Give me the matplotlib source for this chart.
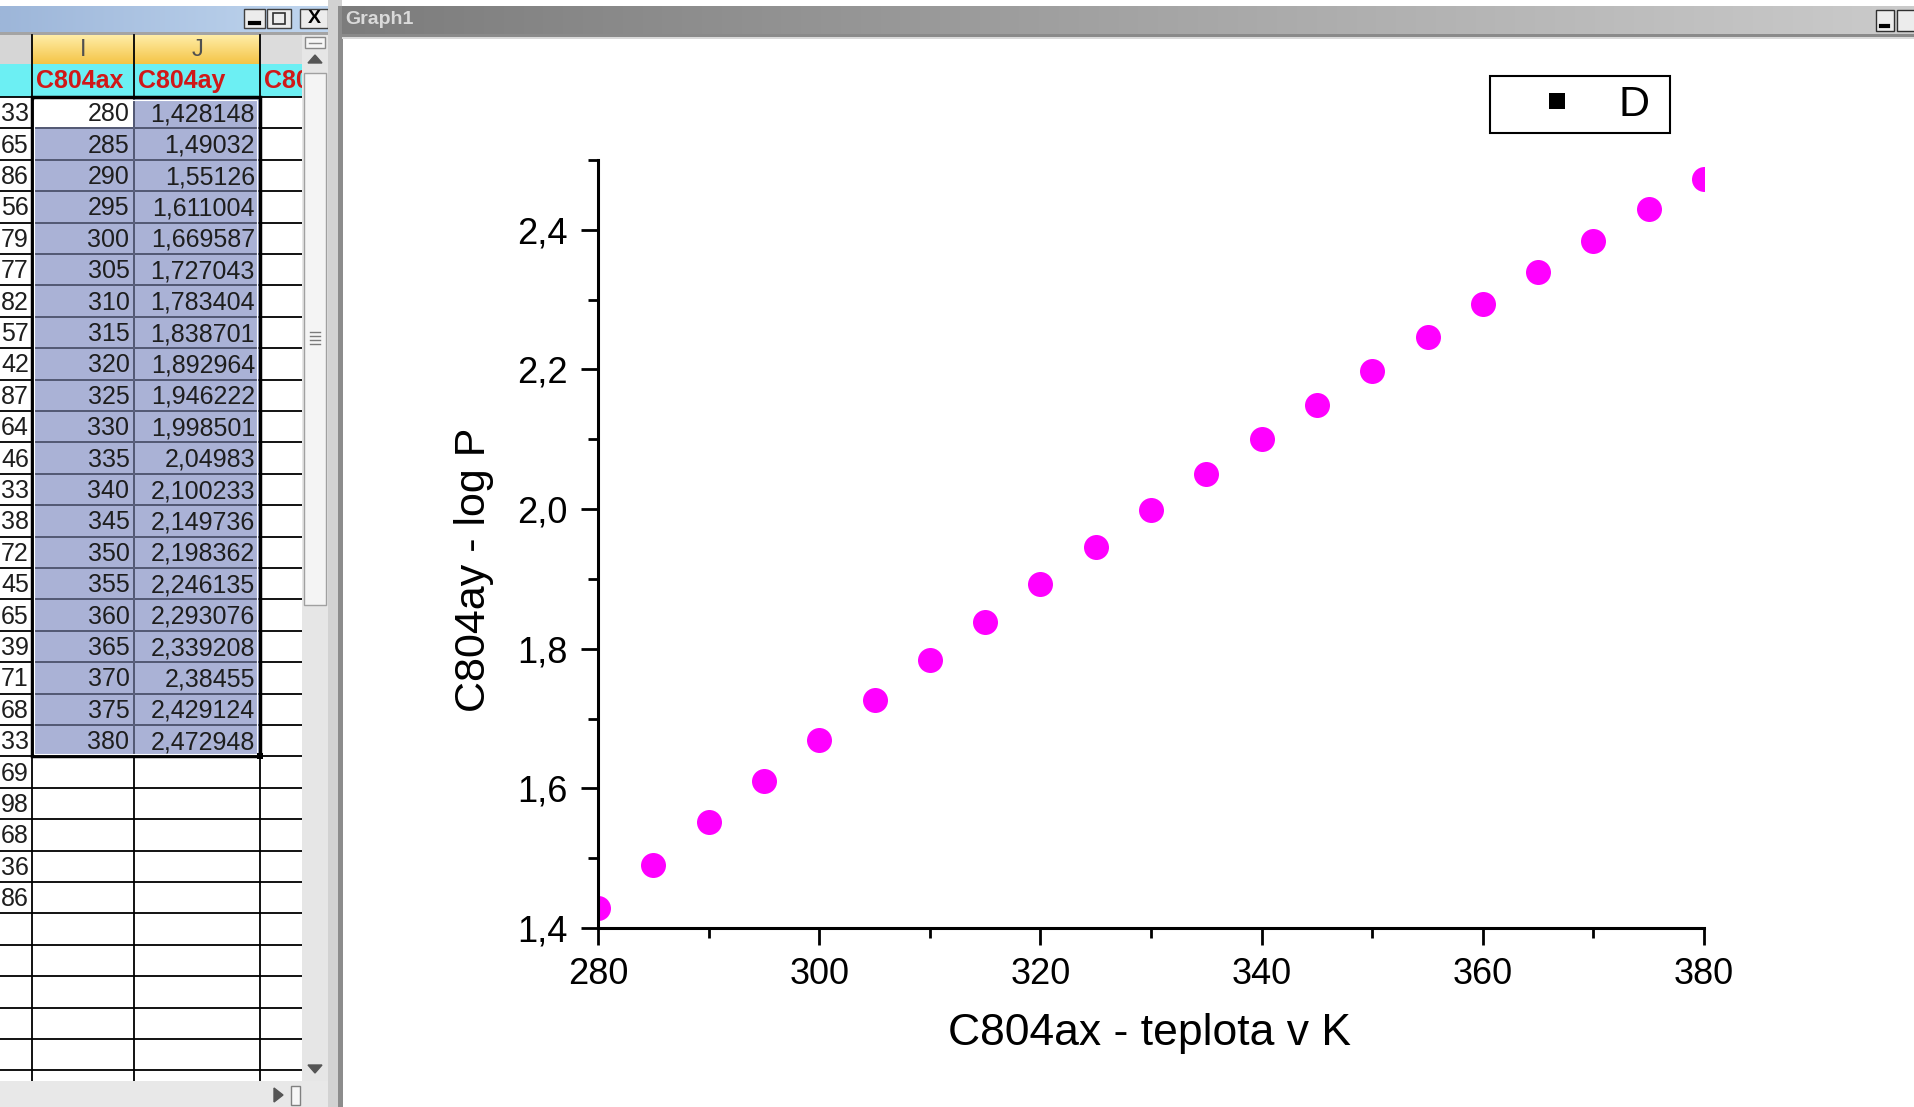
import numpy as np
import matplotlib.pyplot as plt
from matplotlib.patches import Rectangle, Polygon
from matplotlib.lines import Line2D
from matplotlib.ticker import MultipleLocator, FuncFormatter

plt.rcParams['font.family'] = ['Liberation Sans', 'DejaVu Sans']

# data (worksheet columns I and J)
temp = [280, 285, 290, 295, 300, 305, 310, 315, 320, 325, 330,
        335, 340, 345, 350, 355, 360, 365, 370, 375, 380]
logp = [1.428148, 1.49032, 1.55126, 1.611004, 1.669587, 1.727043, 1.783404,
        1.838701, 1.892964, 1.946222, 1.998501, 2.04983, 2.100233, 2.149736,
        2.198362, 2.246135, 2.293076, 2.339208, 2.38455, 2.429124, 2.472948]
# cut-off values of the column left of I
prev_col = ['33', '65', '86', '56', '79', '77', '82', '57', '42', '87', '64',
            '46', '33', '38', '72', '45', '65', '39', '71', '68', '33',
            '69', '98', '68', '36', '86']
col_letters = ['I', 'J']
col_names = ['C804ax', 'C804ay', 'C804bx']
series_name = 'D'
xlabel = 'C804ax - teplota v K'
ylabel = 'C804ay - log P'

W, H = 1915, 1107
fig = plt.figure(figsize=(W / 100, H / 100), dpi=100)
fig.patch.set_facecolor('white')

# background axes in pixel coordinates (y down) for the window chrome
bg = fig.add_axes([0, 0, 1, 1])
bg.set_axis_off()


def rect(x0, y0, x1, y1, fc, ec='none', lw=0, z=1):
    bg.add_patch(Rectangle((x0, y0), x1 - x0, y1 - y0, facecolor=fc,
                           edgecolor=ec, linewidth=lw, zorder=z))


def grad(x0, y0, x1, y1, c0, c1, vertical=False, z=1):
    c0 = np.array(plt.matplotlib.colors.to_rgb(c0))
    c1 = np.array(plt.matplotlib.colors.to_rgb(c1))
    t = np.linspace(0, 1, 256)[:, None]
    cols = c0 * (1 - t) + c1 * t
    img = cols[:, None, :] if vertical else cols[None, :, :]
    bg.imshow(img, extent=(x0, x1, y1, y0), aspect='auto', zorder=z,
              interpolation='bilinear')


# ---- worksheet window ----
grad(0, 6, 330, 32, '#9DB6D9', '#C0D6EF')
for bx0, bx1 in [(244, 265), (267, 291), (300, 328)]:
    rect(bx0, 9, bx1, 28, '#ECECEC', ec='#404040', lw=1, z=2)
bg.plot([250, 259], [23, 23], color='black', lw=3, zorder=3)
rect(273, 13, 285, 24, 'none', ec='#303030', lw=1.2, z=3)
bg.text(314, 18.5, 'X', ha='center', va='center', fontsize=14,
        fontweight='bold', zorder=3)
rect(0, 32, 330, 35, '#A4A4A4')

top0, rh = 97, 31.4
bottom = 1081
colx = [32, 134.5, 260, 302]

# header rows
rect(0, 35, 32, 64, '#D6D6D6')
grad(32, 35, 260, 64, '#FFEDA8', '#F4C446', vertical=True)
rect(260, 35, 302, 64, '#DCDCDC')
rect(0, 64, 302, top0, '#6CEFF3')
for i, letter in enumerate(col_letters):
    bg.text((colx[i] + colx[i + 1]) / 2, 50, letter, ha='center', va='center',
            fontsize=17, color='#505050', zorder=4)
for i, name in enumerate(col_names):
    bg.text(colx[i] + 4, 81, name, ha='left', va='center', fontsize=18,
            fontweight='bold', color='#D01818', zorder=4)

# cells
rect(0, top0, 302, bottom, 'white')
n = len(temp)
rect(colx[0], top0 + rh, colx[1], top0 + n * rh, '#AAB2D6', z=1.5)
rect(colx[1], top0, colx[2], top0 + n * rh, '#AAB2D6', z=1.5)

k = 0
while top0 + k * rh < bottom:
    y = top0 + k * rh
    bg.plot([0, 302], [y, y], color='black', lw=1.3, zorder=2)
    k += 1
for x in colx[:3]:
    bg.plot([x, x], [35, bottom], color='black', lw=1.3, zorder=2)
for k in range(1, n):
    y = top0 + k * rh
    bg.plot([colx[0] + 2, colx[2] - 2], [y, y], color='#5C6280', lw=1.3, zorder=2.5)
bg.plot([colx[1], colx[1]], [top0, top0 + n * rh], color='#5C6280', lw=1.3, zorder=2.5)
rect(colx[0], top0, colx[2], top0 + n * rh, 'none', ec='black', lw=2.5, z=3)
rect(colx[0] + 2.5, top0 + 2.5, colx[2] - 2.5, top0 + n * rh - 2.5, 'none',
     ec='white', lw=0.8, z=3)
rect(colx[2] - 3, top0 + n * rh - 3, colx[2] + 3, top0 + n * rh + 3, 'black', z=3)

for r in range(n):
    yc = top0 + (r + 0.55) * rh
    bg.text(colx[1] - 5, yc, str(temp[r]), ha='right', va='center',
            fontsize=18, color='#1E1E1E', zorder=4)
    bg.text(colx[2] - 5, yc, str(logp[r]).replace('.', ','), ha='right',
            va='center', fontsize=18, color='#1E1E1E', zorder=4)
for r, s in enumerate(prev_col):
    bg.text(29, top0 + (r + 0.55) * rh, s, ha='right', va='center',
            fontsize=18, color='#1E1E1E', zorder=4)

# vertical scrollbar (drawn over the cut-off third column)
rect(302, 35, 328, bottom, '#E6E6E6', z=5)
rect(305, 37, 325, 48, '#F6F6F6', ec='#8A8A8A', lw=1, z=6)
bg.plot([309, 321], [42.5, 42.5], color='#8A8A8A', lw=1, zorder=7)
bg.add_patch(Polygon([(308, 63), (322, 63), (315, 55)], color='#555555', zorder=7))
rect(304, 73, 326, 605, '#F4F4F4', ec='#A0A0A0', lw=1, z=6)
for gy in [332, 336, 340, 344]:
    bg.plot([310, 320], [gy, gy], color='#7A7A7A', lw=1, zorder=7)
bg.add_patch(Polygon([(308, 1065), (322, 1065), (315, 1073)], color='#555555', zorder=7))

# horizontal scrollbar
rect(0, bottom, 330, H, '#E8E8E8', z=5)
bg.add_patch(Polygon([(274, 1088), (274, 1102), (283, 1095)], color='#555555', zorder=7))
rect(291, 1086, 300, 1105, '#F6F6F6', ec='#808080', lw=1, z=7)

# window frame between the two windows and the graph canvas
rect(328, 0, 342, H, '#D2D2D2', z=5)
rect(343, 39, W, H, 'white', z=5)
rect(338, 6, 343, H, '#8C8C8C', z=5)

# ---- graph window ----
grad(342, 6, W, 34, '#7C7C7C', '#CBCBCB', z=5)
bg.text(345, 19, 'Graph1', ha='left', va='center', fontsize=14,
        fontweight='bold', color='#DADADA', zorder=6)
rect(342, 34, W, 37, '#8A8A8A', z=5)
rect(342, 37, W, 39, '#DADADA', z=5)
rect(1876, 10, 1894, 31, '#ECECEC', ec='#303030', lw=1, z=6)
bg.plot([1881, 1888], [26, 26], color='black', lw=3, zorder=7)
rect(1897, 10, W + 2, 31, '#ECECEC', ec='#303030', lw=1, z=6)

bg.set_xlim(0, W)
bg.set_ylim(H, 0)

# ---- the chart ----
ax = fig.add_axes([598 / W, 1 - 928 / H, 1106 / W, 768 / H], zorder=5)
ax.patch.set_alpha(0)
ax.plot(temp, logp, 'o', color='#FF00FF', ms=18, mew=0, ls='none')
ax.set_xlim(280, 380)
ax.set_ylim(1.4, 2.5)
ax.xaxis.set_major_locator(MultipleLocator(20))
ax.xaxis.set_minor_locator(MultipleLocator(10))
ax.yaxis.set_major_locator(MultipleLocator(0.2))
ax.yaxis.set_minor_locator(MultipleLocator(0.1))
ax.yaxis.set_major_formatter(FuncFormatter(lambda v, p: f'{v:.1f}'.replace('.', ',')))
for side in ['top', 'right']:
    ax.spines[side].set_visible(False)
for side in ['left', 'bottom']:
    ax.spines[side].set_linewidth(2.2)
ax.tick_params(which='major', direction='out', length=12, width=2, labelsize=26)
ax.tick_params(which='minor', direction='out', length=7, width=2)
ax.tick_params(axis='x', pad=9)
ax.tick_params(axis='y', pad=10)

ax.set_xlabel(xlabel, fontsize=32, va='center')
ax.xaxis.set_label_coords(0.499, -0.137)
ax.set_ylabel(ylabel, fontsize=31, va='center')
ax.yaxis.set_label_coords(-0.112, 0.466)

handle = Line2D([], [], marker='s', color='black', ls='none', ms=11.5, mew=0)
leg = ax.legend([handle], [series_name + ' '], loc='upper left',
                bbox_to_anchor=(1490 / W, 1 - 76 / H), bbox_transform=fig.transFigure,
                borderaxespad=0, fancybox=False, edgecolor='black', framealpha=1,
                fontsize=31, handlelength=2.72, handletextpad=0.07, borderpad=0.2)
leg.get_frame().set_linewidth(1.5)

fig.savefig('out.png', dpi=100)
